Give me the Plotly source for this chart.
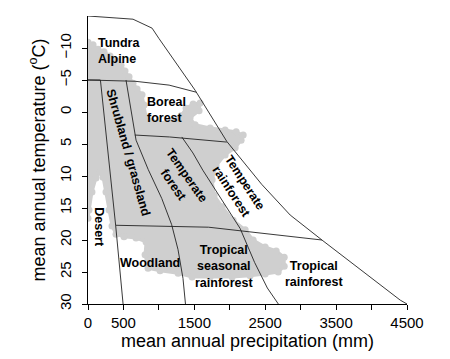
import plotly.graph_objects as go

# ---- data (precipitation mm, temperature degC) ----
cloud_precip = [0, 71, 141, 226, 311, 395, 466, 522, 579, 635, 692, 762, 791, 819, 988, 1186, 1313, 1384,
                1483, 1581, 1567, 1440, 1511, 1723, 1934, 2090, 2189, 2160, 2076, 1934, 1807, 1751, 1779,
                1892, 2047, 2217, 2330, 2499, 2655, 2768, 2768, 2683, 2499, 2287, 2033, 1723, 1468, 1271,
                1017, 847, 805, 819, 678, 508, 395, 339, 297, 254, 212, 169, 113, 56, 14, 0]
cloud_temp = [-10.9, -10.5, -9.8, -9.4, -8.75, -8.1, -7.3, -6.4, -5.5, -4.5, -3.6, -2.7, -1.1, 0.8, 1.7, 1.4,
              0.6, -0.6, -1.25, -1.4, -0.2, 0.9, 2.0, 2.5, 2.8, 3.1, 3.6, 4.4, 5.6, 6.7, 8.4, 10.6, 13.0,
              14.8, 16.9, 18.4, 20.0, 21.1, 21.7, 22.7, 24.1, 25.0, 25.3, 25.6, 25.8, 25.8, 25.8, 25.2,
              24.8, 24.4, 22.3, 20.3, 19.7, 19.5, 19.1, 17.8, 15.3, 12.5, 10.2, 9.4, 10.3, 12.5, 15.3, 16.6]

outer_precip = [0, 635, 904, 1000, 1511, 1958, 2450, 2852, 3300, 4405, 4500]
outer_temp = [-15, -14.5, -13.1, -11.5, -3.4, 4.6, 11.3, 16.1, 20.0, 29.4, 30]

tundra_precip = [0, 664, 1144, 1525]
tundra_temp = [-5, -4.8, -4.2, -3.1]

desert_precip = [0, 175, 390, 495]
desert_temp = [-5, -5, 17.7, 30]

shrub_precip = [536, 678, 850, 1040, 1180, 1270, 1340, 1375]
shrub_temp = [-5, 4.4, 9.0, 13.5, 17.6, 21.5, 26.0, 30]

boreal_precip = [660, 1150, 1958]
boreal_temp = [3.6, 3.9, 4.7]

tempf_precip = [1323, 1480, 1620, 1880, 2146, 2350, 2530, 2685]
tempf_temp = [3.9, 6.4, 9.1, 13.5, 18.2, 23.5, 27.5, 30]

trop_precip = [390, 1700, 3300]
trop_temp = [17.7, 18.0, 20.0]

labels = ["Tundra<br>Alpine", "Boreal<br>forest", "Shrubland / grassland", "Temperate<br>forest",
          "Temperate<br>rainforest", "Desert", "Woodland", "Tropical<br>seasonal<br>rainforest",
          "Tropical<br>rainforest"]
label_precip = [113, 805, 565, 1299, 2118, 155, 875, 1920, 3191]
label_temp = [-9.5, -0.3, 6.25, 10.6, 11.7, 18.0, 23.6, 24.2, 25.3]
label_angle = [0, 0, 74, 55, 57, 90, 0, 0, 0]
label_anchor = ["left", "left", "center", "center", "center", "center", "center", "center", "center"]

x_label_ticks = [0, 500, 1500, 2500, 3500, 4500]
x_minor_ticks = [1000, 2000, 3000, 4000]
y_ticks = [-10, -5, 0, 5, 10, 15, 20, 25, 30]

FONT = "Liberation Sans, Arial, sans-serif"
GRAY = "#cfcfcf"

fig = go.Figure()
fig.add_trace(go.Scatter(x=cloud_precip, y=cloud_temp, mode="lines+markers", fill="toself",
                         fillcolor=GRAY, line=dict(color=GRAY, width=3),
                         marker=dict(color=GRAY, size=7), hoverinfo="skip"))

for xs, ys in [(outer_precip, outer_temp), (tundra_precip, tundra_temp), (desert_precip, desert_temp),
               (shrub_precip, shrub_temp), (boreal_precip, boreal_temp), (tempf_precip, tempf_temp),
               (trop_precip, trop_temp)]:
    fig.add_trace(go.Scatter(x=xs, y=ys, mode="lines", line=dict(color="#222222", width=0.9),
                             hoverinfo="skip"))

for t, xv, yv, a, anc in zip(labels, label_precip, label_temp, label_angle, label_anchor):
    fig.add_annotation(x=xv, y=yv, text="<b>%s</b>" % t, showarrow=False, textangle=a,
                       xanchor=anc, yanchor="middle", align="center" if anc == "center" else "left",
                       font=dict(family=FONT, size=12.5, color="black"))

fig.update_layout(
    width=450, height=359, showlegend=False,
    margin=dict(l=88, r=43, t=16, b=55),
    plot_bgcolor="white", paper_bgcolor="white",
    font=dict(family=FONT, color="black"),
)
fig.update_xaxes(range=[0, 4500], tickvals=x_label_ticks, ticks="outside", ticklen=5,
                 tickwidth=1, tickcolor="black", showline=True, linecolor="black", linewidth=1.3,
                 minor=dict(tickvals=x_minor_ticks, ticks="outside", ticklen=5, tickwidth=1, tickcolor="black"),
                 showgrid=False, zeroline=False, automargin=False, tickfont=dict(size=15, family=FONT),
                 title=dict(text="mean annual precipitation (mm)", font=dict(size=18, family=FONT), standoff=0))
fig.update_yaxes(range=[30, -15], tickvals=y_ticks, ticks="outside", ticklen=5, tickangle=-90,
                 tickwidth=1, tickcolor="black", showline=True, linecolor="black", linewidth=1.3,
                 showgrid=False, zeroline=False, automargin=False, ticklabelstandoff=5,
                 tickfont=dict(size=15, family=FONT),
                 title=dict(text="mean annual temperature (<sup>o</sup>C)", font=dict(size=18, family=FONT), standoff=6))

fig.write_html("out.html", post_script="document.body.style.margin='0';",
               config={"displayModeBar": False})
